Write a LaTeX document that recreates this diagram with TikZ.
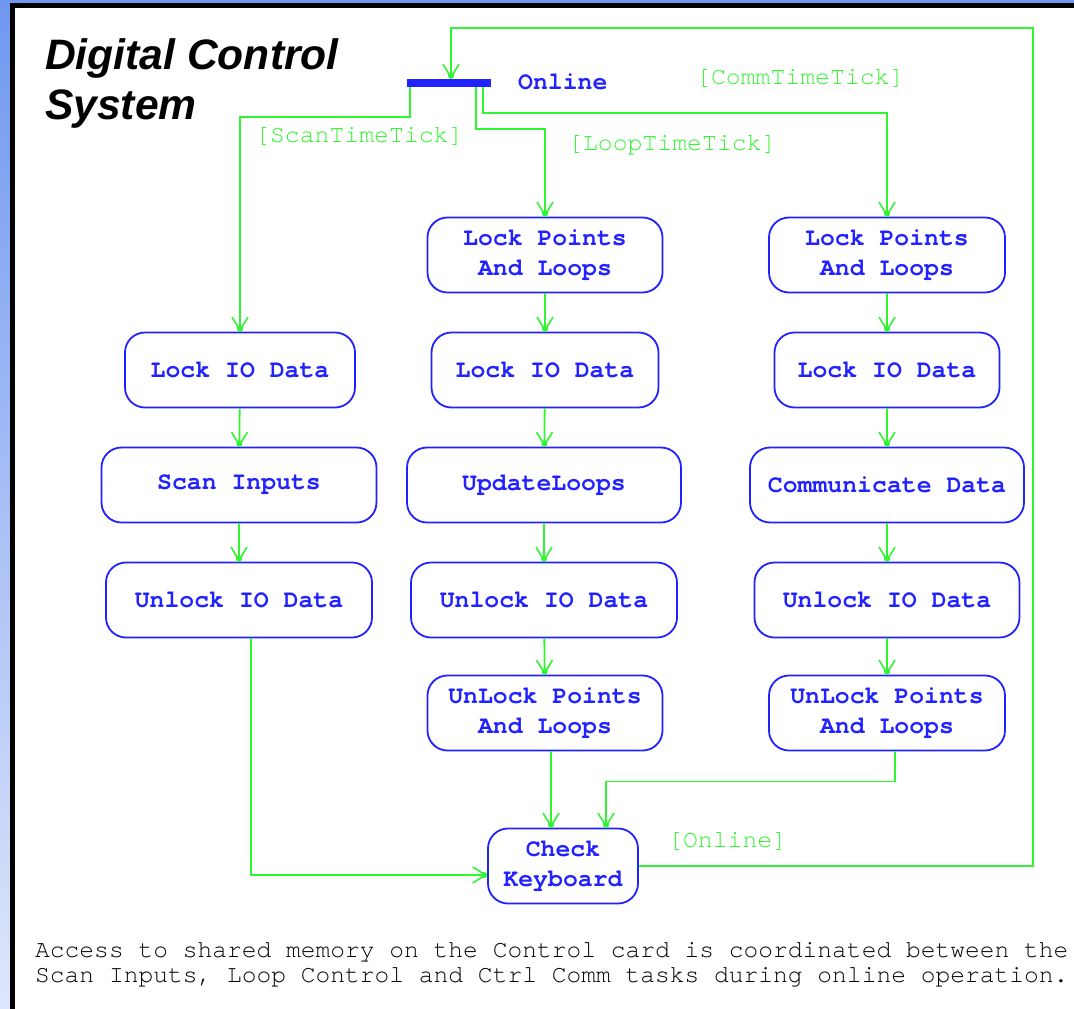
\documentclass[tikz,border=0pt]{standalone}
\usepackage{fontspec}
\setmonofont{TeX Gyre Cursor}
\newfontfamily\titlefont{Liberation Sans}
\usepackage{tikz}
\usetikzlibrary{arrows.meta}

\definecolor{actblue}{RGB}{34,34,255}
\definecolor{flowgreen}{RGB}{50,245,50}
\definecolor{edgeblue}{RGB}{112,152,240}
\definecolor{paleblue}{RGB}{222,230,251}

\begin{document}
\begin{tikzpicture}[x=1pt, y=-1pt,
    act/.style={draw=actblue, line width=1.8pt, rounded corners=20pt, text=actblue,
      font=\fontsize{24.8}{30}\selectfont\ttfamily\bfseries, align=center,
      minimum height=75pt, inner sep=0pt},
    flow/.style={draw=flowgreen, line width=1.8pt,
      -{Straight Barb[length=13pt, width=16pt, line width=1.6pt, sep=-6pt] Circle[length=6pt]}},
    guard/.style={text=flowgreen, font=\fontsize{24.8}{30}\selectfont\ttfamily, anchor=west, inner sep=0pt}]
  \useasboundingbox (0,0) rectangle (1074,1009);
  % frame
  \shade[top color=edgeblue, bottom color=paleblue] (0,0) rectangle (10,1009);
  \fill[edgeblue] (0,0) rectangle (1074,3);
  \fill[black] (10,3) rectangle (15,1009);
  \fill[black] (10,3) rectangle (1074,8);
  \fill[white] (15,8) rectangle (1074,1009);

  \node[anchor=base west, inner sep=0pt, align=left,
    font=\fontsize{42.6}{50}\selectfont\titlefont\bfseries\itshape] at (45,119)
    {Digital Control\\System};

  % fork
  \node (fork) [fill=actblue, minimum width=84pt, minimum height=8pt, inner sep=0pt] at (449,83) {};
  \node [text=actblue, font=\fontsize{24.8}{30}\selectfont\ttfamily\bfseries, anchor=west, inner sep=0pt] at (518,82) {Online};

  % scan inputs
  \node (lockioA)  [act, minimum width=230pt] at (240,370) {Lock IO Data};
  \node (scan)     [act, minimum width=275pt] at (239,485) {Scan Inputs};
  \node (unlockA)  [act, minimum width=266pt] at (239,600) {Unlock IO Data};

  % loop control
  \node (lockptB)   [act, minimum width=235pt] at (545,255) {Lock Points\\And Loops};
  \node (lockioB)   [act, minimum width=227pt] at (545,370) {Lock IO Data};
  \node (update)    [act, minimum width=274pt] at (544,485) {UpdateLoops};
  \node (unlockB)   [act, minimum width=266pt] at (544,600) {Unlock IO Data};
  \node (unlockptB) [act, minimum width=235pt] at (545,713) {UnLock Points\\And Loops};

  % comm
  \node (lockptC)   [act, minimum width=236pt] at (887,255) {Lock Points\\And Loops};
  \node (lockioC)   [act, minimum width=225pt] at (887,370) {Lock IO Data};
  \node (comm)      [act, minimum width=274pt] at (887,485) {Communicate Data};
  \node (unlockC)   [act, minimum width=265pt] at (887,600) {Unlock IO Data};
  \node (unlockptC) [act, minimum width=236pt] at (887,713) {UnLock Points\\And Loops};

  \node (check) [act, minimum width=150pt] at (563,866) {Check\\Keyboard};

  % guards
  \node [guard] at (255,136) {[ScanTimeTick]};
  \node [guard] at (568,145) {[LoopTimeTick]};
  \node [guard] at (696,78) {[CommTimeTick]};
  \node [guard] at (668,841) {[Online]};

  % flows
  \draw[flow] ([xshift=-39pt]fork.south) -- ++(0,30) -| (lockioA);
  \draw[flow] ([xshift=27pt]fork.south) -- ++(0,42) -| (lockptB);
  \draw[flow] ([xshift=34pt]fork.south) -- ++(0,26) -| (lockptC);

  \draw[flow] (lockioA) -- (scan);
  \draw[flow] (scan) -- (unlockA);
  \draw[flow] (lockptB) -- (lockioB);
  \draw[flow] (lockioB) -- (update);
  \draw[flow] (update) -- (unlockB);
  \draw[flow] (unlockB) -- (unlockptB);
  \draw[flow] (lockptC) -- (lockioC);
  \draw[flow] (lockioC) -- (comm);
  \draw[flow] (comm) -- (unlockC);
  \draw[flow] (unlockC) -- (unlockptC);

  \draw[flow] ([xshift=12pt]unlockA.south) |- ([yshift=-9pt]check.west);
  \draw[flow] ([xshift=6pt]unlockptB.south) -- ([xshift=-12pt]check.north);
  \draw[flow] ([xshift=8pt]unlockptC.south) -- ++(0,30) -| ([xshift=43pt]check.north);

  \coordinate (ret) at (1033,28);
  \draw[flow] (check.east) -| (ret) -| ([xshift=2pt]fork.north);

  % note
  \node [anchor=base west, inner sep=0pt, align=left,
    font=\fontsize{24.6}{25}\selectfont\ttfamily] at (35,982)
    {Access to shared memory on the Control card is coordinated between the\\
     Scan Inputs, Loop Control and Ctrl Comm tasks during online operation.};
\end{tikzpicture}
\end{document}
